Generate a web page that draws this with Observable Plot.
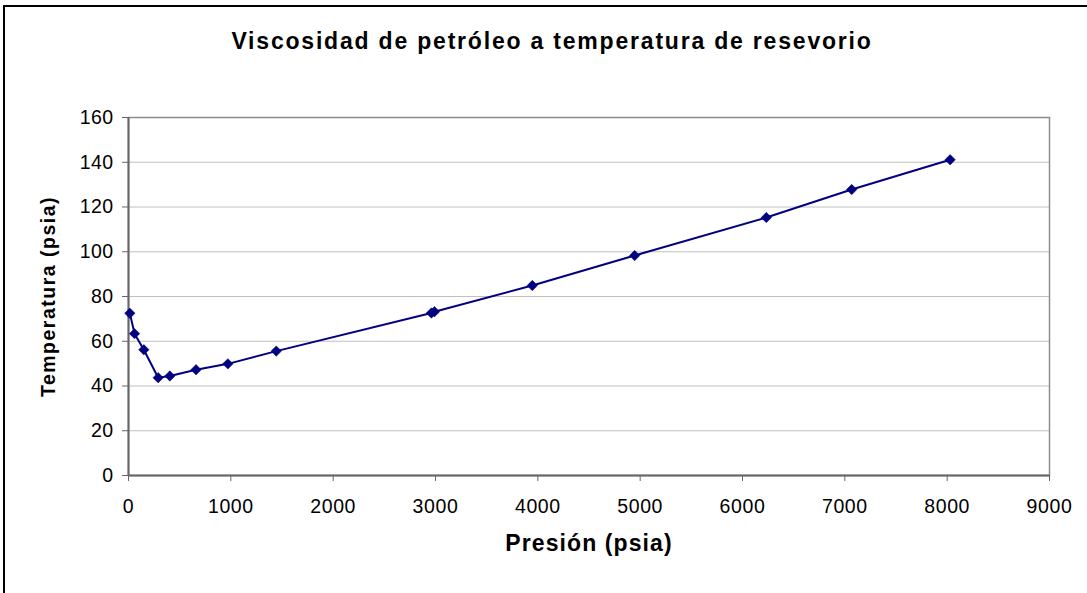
<!DOCTYPE html>
<html>
<head>
<meta charset="utf-8">
<script src="https://cdn.jsdelivr.net/npm/d3@7"></script>
<script src="https://cdn.jsdelivr.net/npm/@observablehq/plot@0.6"></script>
<style>
  html, body { margin: 0; padding: 0; background: #fff; overflow: hidden; }
  #wrap { position: relative; width: 1087px; height: 593px; }
  #border { position: absolute; left: 3px; top: 5px; width: 1200px; height: 700px;
            border-left: 2px solid #000; border-top: 2px solid #000; pointer-events: none; }
  #chart { position: absolute; left: 0; top: 0; }
</style>
</head>
<body>
<div id="wrap"><div id="chart"></div><div id="border"></div></div>
<script>
// Data
const pressure    = [13, 59, 150, 290, 404, 660, 971, 1444, 2960, 2990, 3946, 4946, 6233, 7067, 8029];
const temperature = [72.5, 63.4, 56.2, 43.7, 44.5, 47.3, 49.9, 55.6, 72.6, 73.2, 84.9, 98.3, 115.3, 127.8, 141.1];
const xTicks = [0, 1000, 2000, 3000, 4000, 5000, 6000, 7000, 8000, 9000];
const yTicks = [0, 20, 40, 60, 80, 100, 120, 140, 160];
const gridValues = [20, 40, 60, 80, 100, 120, 140];
const titleText = "Viscosidad de petróleo a temperatura de resevorio";
const xLabel = "Presión (psia)";
const yLabel = "Temperatura (psia)";

const data = pressure.map((p, i) => ({p, t: temperature[i]}));
const font = "'Liberation Sans', Arial, Helvetica, sans-serif";

const chart = Plot.plot({
  width: 1087,
  height: 593,
  marginLeft: 128,
  marginRight: 38,
  marginTop: 117,
  marginBottom: 118,
  style: {fontFamily: font, fontSize: "19px", color: "#000", background: "transparent"},
  x: {domain: [0, 9000]},
  y: {domain: [0, 160]},
  marks: [
    Plot.gridY(gridValues, {stroke: "#c0c0c0", strokeOpacity: 1, strokeWidth: 1}),
    Plot.frame({stroke: "#8c8c8c", strokeWidth: 1.5}),
    Plot.ruleX([0], {stroke: "#666", strokeWidth: 2}),
    Plot.ruleY([0], {stroke: "#666", strokeWidth: 2}),
    Plot.axisX({ticks: xTicks, tickSize: 6, tickPadding: 18, tickFormat: d => String(d),
                fontSize: 19.5, stroke: "#666", label: null}),
    Plot.axisY({ticks: yTicks, tickSize: 6, tickPadding: 9, tickFormat: d => String(d),
                fontSize: 19.5, stroke: "#666", label: null}),
    Plot.line(data, {x: "p", y: "t", stroke: "#000080", strokeWidth: 2}),
    Plot.dot(data, {x: "p", y: "t", symbol: "diamond2", r: 4.7, fill: "#000080", stroke: "#000080", strokeWidth: 0.5}),
    Plot.text([titleText], {frameAnchor: "top", dx: -37, dy: -76, lineAnchor: "middle", textAnchor: "middle",
                            fontSize: 23, fontWeight: "bold", fill: "#000"}),
    Plot.text([xLabel], {frameAnchor: "bottom", dx: 0, dy: 68, lineAnchor: "middle", textAnchor: "middle",
                         fontSize: 23, fontWeight: "bold", fill: "#000"}),
    Plot.text([yLabel], {frameAnchor: "left", dx: -80, dy: 0, rotate: -90, lineAnchor: "middle", textAnchor: "middle",
                         fontSize: 19.5, fontWeight: "bold", fill: "#000"})
  ]
});

document.getElementById("chart").appendChild(chart);

// Excel-like wide letter spacing
const svg = d3.select(chart);
svg.selectAll('[aria-label="x-axis tick label"] text').style("letter-spacing", "0.6px");
svg.selectAll('[aria-label="y-axis tick label"] text').style("letter-spacing", "0.4px");
svg.selectAll("text").each(function() {
  const s = this.textContent;
  if (s === titleText) d3.select(this).style("letter-spacing", "1.8px");
  else if (s === xLabel) d3.select(this).style("letter-spacing", "1.1px");
  else if (s === yLabel) d3.select(this).style("letter-spacing", "1.5px");
});
</script>
</body>
</html>
